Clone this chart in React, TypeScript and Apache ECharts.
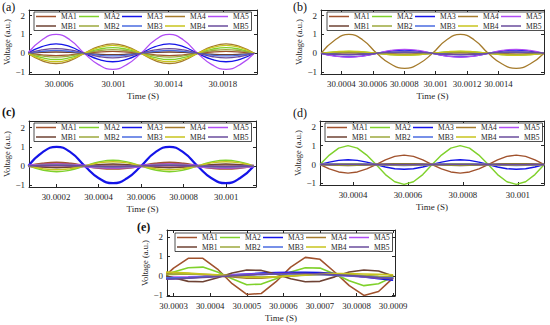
import React, { useEffect, useRef } from "react";
import * as echarts from "echarts";

const NAMES = ["MA1", "MA2", "MA3", "MA4", "MA5", "MB1", "MB2", "MB3", "MB4", "MB5"];
const COLORS: Record<string, string> = {
  MA1: "#A0522D", MA2: "#7FD12B", MA3: "#1414E8", MA4: "#A57B2C", MA5: "#B04DF5",
  MB1: "#6E4233", MB2: "#9DA83C", MB3: "#4A6BE0", MB4: "#C8C41E", MB5: "#6A4C9C",
};

// ---------- panel (a) ----------
const A_T = [30.00037, 30.000474, 30.000578, 30.000681, 30.000785, 30.000889, 30.000993, 30.001096, 30.0012, 30.001304, 30.001408, 30.001511, 30.001615, 30.001719, 30.001823, 30.001926, 30.00203];
const A_MA1 = [0, -0.08, -0.12, -0.08, 0, 0.07, 0.1, 0.07, 0, -0.08, -0.12, -0.08, 0, 0.07, 0.1, 0.07, 0];
const A_MA2 = [0, -0.23, -0.33, -0.23, 0, 0.21, 0.3, 0.21, 0, -0.23, -0.33, -0.23, 0, 0.21, 0.3, 0.21, 0];
const A_MA3 = [0, 0.35, 0.5, 0.35, 0, -0.32, -0.45, -0.32, 0, 0.35, 0.5, 0.35, 0, -0.32, -0.45, -0.32, 0];
const A_MA4 = [0, -0.39, -0.55, -0.39, 0, 0.35, 0.5, 0.35, 0, -0.39, -0.55, -0.39, 0, 0.35, 0.5, 0.35, 0];
const A_MA5 = [0, 0.71, 1.0, 0.71, 0, -0.6, -0.85, -0.6, 0, 0.71, 1.0, 0.71, 0, -0.6, -0.85, -0.6, 0];
const A_MB1 = [0, 0.05, 0.07, 0.05, 0, -0.05, -0.07, -0.05, 0, 0.05, 0.07, 0.05, 0, -0.05, -0.07, -0.05, 0];
const A_MB2 = [0, -0.14, -0.2, -0.14, 0, 0.14, 0.2, 0.14, 0, -0.14, -0.2, -0.14, 0, 0.14, 0.2, 0.14, 0];
const A_MB3 = [0, 0.1, 0.15, 0.1, 0, -0.1, -0.14, -0.1, 0, 0.1, 0.15, 0.1, 0, -0.1, -0.14, -0.1, 0];
const A_MB4 = [0, -0.32, -0.45, -0.32, 0, 0.3, 0.42, 0.3, 0, -0.32, -0.45, -0.32, 0, 0.3, 0.42, 0.3, 0];
const A_MB5 = [0, 0.18, 0.25, 0.18, 0, -0.17, -0.24, -0.17, 0, 0.18, 0.25, 0.18, 0, -0.17, -0.24, -0.17, 0];
const A_XTICKS = [30.0006, 30.001, 30.0014, 30.0018];

// ---------- panel (b) ----------
const B_T = [30.00027, 30.000359, 30.000448, 30.000536, 30.000625, 30.000714, 30.000803, 30.000891, 30.00098, 30.001069, 30.001158, 30.001246, 30.001335, 30.001424, 30.001513, 30.001601, 30.00169];
const B_MA1 = [0, 0.03, 0.04, 0.03, 0, -0.03, -0.04, -0.03, 0, 0.03, 0.04, 0.03, 0, -0.03, -0.04, -0.03, 0];
const B_MA2 = [0, 0.07, 0.1, 0.07, 0, -0.07, -0.1, -0.07, 0, 0.07, 0.1, 0.07, 0, -0.07, -0.1, -0.07, 0];
const B_MA3 = [0, -0.14, -0.19, -0.14, 0, 0.12, 0.17, 0.12, 0, -0.14, -0.19, -0.14, 0, 0.12, 0.17, 0.12, 0];
const B_MA4 = [0, 0.71, 1.0, 0.71, 0, -0.57, -0.8, -0.57, 0, 0.71, 1.0, 0.71, 0, -0.57, -0.8, -0.57, 0];
const B_MA5 = [0, -0.15, -0.21, -0.15, 0, 0.15, 0.21, 0.15, 0, -0.15, -0.21, -0.15, 0, 0.15, 0.21, 0.15, 0];
const B_MB1 = [0, -0.03, -0.04, -0.03, 0, 0.03, 0.04, 0.03, 0, -0.03, -0.04, -0.03, 0, 0.03, 0.04, 0.03, 0];
const B_MB2 = [0, 0.05, 0.07, 0.05, 0, -0.05, -0.07, -0.05, 0, 0.05, 0.07, 0.05, 0, -0.05, -0.07, -0.05, 0];
const B_MB3 = [0, -0.05, -0.07, -0.05, 0, 0.05, 0.07, 0.05, 0, -0.05, -0.07, -0.05, 0, 0.05, 0.07, 0.05, 0];
const B_MB4 = [0, 0.08, 0.12, 0.08, 0, -0.08, -0.11, -0.08, 0, 0.08, 0.12, 0.08, 0, -0.08, -0.11, -0.08, 0];
const B_MB5 = [0, -0.06, -0.08, -0.06, 0, 0.06, 0.08, 0.06, 0, -0.06, -0.08, -0.06, 0, 0.06, 0.08, 0.06, 0];
const B_XTICKS = [30.0004, 30.0006, 30.0008, 30.001, 30.0012, 30.0014];

// ---------- panel (c) ----------
const C_T = [30.00007, 30.000136, 30.000203, 30.000269, 30.000335, 30.000401, 30.000468, 30.000534, 30.0006, 30.000666, 30.000733, 30.000799, 30.000865, 30.000931, 30.000998, 30.001064, 30.00113];
const C_MA1 = [0, 0.12, 0.17, 0.12, 0, -0.1, -0.14, -0.1, 0, 0.12, 0.17, 0.12, 0, -0.1, -0.14, -0.1, 0];
const C_MA2 = [0, -0.21, -0.3, -0.21, 0, 0.21, 0.3, 0.21, 0, -0.21, -0.3, -0.21, 0, 0.21, 0.3, 0.21, 0];
const C_MA3 = [0, 0.71, 1.0, 0.71, 0, -0.64, -0.9, -0.64, 0, 0.71, 1.0, 0.71, 0, -0.64, -0.9, -0.64, 0];
const C_MA4 = [0, -0.04, -0.05, -0.04, 0, 0.04, 0.05, 0.04, 0, -0.04, -0.05, -0.04, 0, 0.04, 0.05, 0.04, 0];
const C_MA5 = [0, 0.04, 0.06, 0.04, 0, -0.05, -0.07, -0.05, 0, 0.04, 0.06, 0.04, 0, -0.05, -0.07, -0.05, 0];
const C_MB1 = [0, -0.06, -0.09, -0.06, 0, 0.07, 0.1, 0.07, 0, -0.06, -0.09, -0.06, 0, 0.07, 0.1, 0.07, 0];
const C_MB2 = [0, 0.04, 0.05, 0.04, 0, -0.04, -0.05, -0.04, 0, 0.04, 0.05, 0.04, 0, -0.04, -0.05, -0.04, 0];
const C_MB3 = [0, 0.03, 0.04, 0.03, 0, -0.03, -0.04, -0.03, 0, 0.03, 0.04, 0.03, 0, -0.03, -0.04, -0.03, 0];
const C_MB4 = [0, -0.14, -0.2, -0.14, 0, 0.16, 0.22, 0.16, 0, -0.14, -0.2, -0.14, 0, 0.16, 0.22, 0.16, 0];
const C_MB5 = [0, 0.02, 0.03, 0.02, 0, -0.02, -0.03, -0.02, 0, 0.02, 0.03, 0.02, 0, -0.02, -0.03, -0.02, 0];
const C_XTICKS = [30.0002, 30.0004, 30.0006, 30.0008, 30.001];

// ---------- panel (d) ----------
const D_T = [30.00028, 30.000314, 30.000348, 30.000382, 30.000416, 30.00045, 30.000484, 30.000518, 30.000552, 30.000586, 30.00062, 30.000654, 30.000688, 30.000722, 30.000756, 30.00079, 30.000824, 30.000858, 30.000892, 30.000926, 30.00096, 30.000994, 30.001028, 30.001062, 30.001096];
const D_MA1 = [0, -0.23, -0.39, -0.45, -0.39, -0.23, 0, 0.25, 0.43, 0.5, 0.43, 0.25, 0, -0.23, -0.39, -0.45, -0.39, -0.23, 0, 0.25, 0.43, 0.5, 0.43, 0.25, 0];
const D_MA2 = [0, 0.5, 0.87, 1.0, 0.87, 0.5, 0, -0.53, -0.91, -1.05, -0.91, -0.53, 0, 0.5, 0.87, 1.0, 0.87, 0.5, 0, -0.53, -0.91, -1.05, -0.91, -0.53, 0];
const D_MA3 = [0, 0.13, 0.22, 0.25, 0.22, 0.13, 0, -0.13, -0.22, -0.25, -0.22, -0.13, 0, 0.13, 0.22, 0.25, 0.22, 0.13, 0, -0.13, -0.22, -0.25, -0.22, -0.13, 0];
const D_MA4 = [0, 0.01, 0.02, 0.02, 0.02, 0.01, 0, -0.01, -0.02, -0.02, -0.02, -0.01, 0, 0.01, 0.02, 0.02, 0.02, 0.01, 0, -0.01, -0.02, -0.02, -0.02, -0.01, 0];
const D_MA5 = [0, 0.01, 0.01, 0.01, 0.01, 0.01, 0, -0.01, -0.01, -0.01, -0.01, -0.01, 0, 0.01, 0.01, 0.01, 0.01, 0.01, 0, -0.01, -0.01, -0.01, -0.01, -0.01, 0];
const D_MB1 = [0, -0.03, -0.04, -0.05, -0.04, -0.03, 0, 0.03, 0.04, 0.05, 0.04, 0.03, 0, -0.03, -0.04, -0.05, -0.04, -0.03, 0, 0.03, 0.04, 0.05, 0.04, 0.03, 0];
const D_MB2 = [0, -0.01, -0.02, -0.02, -0.02, -0.01, 0, 0.01, 0.02, 0.02, 0.02, 0.01, 0, -0.01, -0.02, -0.02, -0.02, -0.01, 0, 0.01, 0.02, 0.02, 0.02, 0.01, 0];
const D_MB3 = [0, 0.03, 0.04, 0.05, 0.04, 0.03, 0, -0.03, -0.04, -0.05, -0.04, -0.03, 0, 0.03, 0.04, 0.05, 0.04, 0.03, 0, -0.03, -0.04, -0.05, -0.04, -0.03, 0];
const D_MB4 = [0, 0.01, 0.02, 0.02, 0.02, 0.01, 0, -0.01, -0.02, -0.02, -0.02, -0.01, 0, 0.01, 0.02, 0.02, 0.02, 0.01, 0, -0.01, -0.02, -0.02, -0.02, -0.01, 0];
const D_MB5 = [0, 0, 0.01, 0.01, 0.01, 0, 0, 0, -0.01, -0.01, -0.01, 0, 0, 0, 0.01, 0.01, 0.01, 0, 0, 0, -0.01, -0.01, -0.01, 0, 0];
const D_XTICKS = [30.0004, 30.0006, 30.0008, 30.001];

// ---------- panel (e) ----------
const E_T = [30.00026, 30.0003, 30.00034, 30.00038, 30.00042, 30.00046, 30.0005, 30.00054, 30.00058, 30.00062, 30.00066, 30.0007, 30.00074, 30.00078, 30.00082, 30.00086, 30.0009];
const E_MA1 = [-0.3, 0.4, 0.9, 0.9, 0.35, -0.4, -0.95, -0.9, -0.3, 0.45, 0.95, 0.85, 0.2, -0.5, -1.0, -0.8, -0.1];
const E_MA2 = [-0.15, 0.2, 0.42, 0.45, 0.2, -0.15, -0.45, -0.42, -0.15, 0.2, 0.42, 0.4, 0.1, -0.25, -0.5, -0.4, -0.05];
const E_MA3 = [-0.15, -0.14, -0.1, -0.05, 0.0, 0.05, 0.1, 0.14, 0.17, 0.18, 0.18, 0.17, 0.12, 0.05, -0.05, -0.15, -0.22];
const E_MA4 = [0.15, 0.15, 0.12, 0.06, 0.0, -0.06, -0.12, -0.12, -0.06, 0.0, 0.06, 0.12, 0.12, 0.06, 0.0, -0.06, -0.1];
const E_MA5 = [-0.05, -0.06, -0.05, -0.02, 0.02, 0.05, 0.08, 0.1, 0.12, 0.12, 0.1, 0.08, 0.04, 0.0, -0.05, -0.1, -0.12];
const E_MB1 = [0.1, -0.1, -0.28, -0.3, -0.1, 0.15, 0.3, 0.28, 0.1, -0.15, -0.3, -0.28, -0.05, 0.2, 0.3, 0.25, 0.0];
const E_MB2 = [0.05, 0.08, 0.1, 0.08, 0.04, 0.0, -0.04, -0.06, -0.04, 0.0, 0.04, 0.06, 0.08, 0.06, 0.02, -0.02, -0.04];
const E_MB3 = [-0.1, -0.1, -0.08, -0.05, -0.02, 0.02, 0.05, 0.08, 0.1, 0.1, 0.09, 0.07, 0.04, 0.0, -0.04, -0.08, -0.1];
const E_MB4 = [0.2, 0.18, 0.14, 0.1, 0.05, 0.0, -0.05, -0.08, -0.05, 0.0, 0.05, 0.1, 0.12, 0.12, 0.1, 0.08, 0.05];
const E_MB5 = [-0.18, -0.16, -0.12, -0.08, -0.04, 0.0, 0.04, 0.08, 0.1, 0.12, 0.12, 0.1, 0.06, 0.02, -0.04, -0.1, -0.14];
const E_XTICKS = [30.0003, 30.0004, 30.0005, 30.0006, 30.0007, 30.0008, 30.0009];

const Y_TICKS = [-1, 0, 1, 2];
const PANEL_LABELS = ["(a)", "(b)", "(c)", "(d)", "(e)"];
const X_NAME = "Time (S)";
const Y_NAME = "Voltage (a.u.)";

const FONT = '"Liberation Serif", "Times New Roman", "DejaVu Serif", serif';
const AXIS_COLOR = "#262626";
const TEXT_COLOR = "#1e1e1e";

type Panel = {
  times: number[];
  values: Record<string, number[]>;
  xMin: number; xMax: number; xTicks: number[];
  yMin: number; yMax: number;
  grid: { left: number; top: number; width: number; height: number };
  legend: { left: number; top: number };
  title: { x: number; y: number; bold: boolean };
  smooth: number | boolean;
  width: number;
  widths?: Record<string, number>;
};

const PANELS: Panel[] = [
  {
    times: A_T,
    values: { MA1: A_MA1, MA2: A_MA2, MA3: A_MA3, MA4: A_MA4, MA5: A_MA5, MB1: A_MB1, MB2: A_MB2, MB3: A_MB3, MB4: A_MB4, MB5: A_MB5 },
    xMin: 30.00038, xMax: 30.00205, xTicks: A_XTICKS, yMin: -1.1, yMax: 2.3,
    grid: { left: 29, top: 10, width: 228, height: 64 }, legend: { left: 34, top: 12 },
    title: { x: 2, y: 1, bold: false }, smooth: 0.5, width: 1.3,
  },
  {
    times: B_T,
    values: { MA1: B_MA1, MA2: B_MA2, MA3: B_MA3, MA4: B_MA4, MA5: B_MA5, MB1: B_MB1, MB2: B_MB2, MB3: B_MB3, MB4: B_MB4, MB5: B_MB5 },
    xMin: 30.00027, xMax: 30.00169, xTicks: B_XTICKS, yMin: -1.1, yMax: 2.3,
    grid: { left: 321, top: 10, width: 223, height: 64 }, legend: { left: 327, top: 12 },
    title: { x: 293, y: 1, bold: false }, smooth: 0.5, width: 1.3,
  },
  {
    times: C_T,
    values: { MA1: C_MA1, MA2: C_MA2, MA3: C_MA3, MA4: C_MA4, MA5: C_MA5, MB1: C_MB1, MB2: C_MB2, MB3: C_MB3, MB4: C_MB4, MB5: C_MB5 },
    xMin: 30.000073, xMax: 30.00114, xTicks: C_XTICKS, yMin: -1.1, yMax: 2.35,
    grid: { left: 29, top: 121, width: 227, height: 66 }, legend: { left: 34, top: 123 },
    title: { x: 2, y: 106, bold: true }, smooth: 0.5, width: 1.4,
    widths: { MA1: 2.2, MA3: 2.2, MA5: 3 },
  },
  {
    times: D_T,
    values: { MA1: D_MA1, MA2: D_MA2, MA3: D_MA3, MA4: D_MA4, MA5: D_MA5, MB1: D_MB1, MB2: D_MB2, MB3: D_MB3, MB4: D_MB4, MB5: D_MB5 },
    xMin: 30.00028, xMax: 30.001095, xTicks: D_XTICKS, yMin: -1.08, yMax: 2.3,
    grid: { left: 320, top: 121, width: 224, height: 64 }, legend: { left: 325, top: 123 },
    title: { x: 293, y: 107, bold: false }, smooth: false, width: 1.4,
  },
  {
    times: E_T,
    values: { MA1: E_MA1, MA2: E_MA2, MA3: E_MA3, MA4: E_MA4, MA5: E_MA5, MB1: E_MB1, MB2: E_MB2, MB3: E_MB3, MB4: E_MB4, MB5: E_MB5 },
    xMin: 30.000282, xMax: 30.000905, xTicks: E_XTICKS, yMin: -1.03, yMax: 2.35,
    grid: { left: 167, top: 230, width: 228, height: 66 }, legend: { left: 175, top: 233 },
    title: { x: 137, y: 221, bold: true }, smooth: false, width: 1.6,
  },
];

const fmtX = (v: number) => String(parseFloat(v.toFixed(4)));
const fmtY = (v: number) => (v < 0 ? "\u2212" + String(Math.abs(v)) : String(v));

function buildOption() {
  const grid: any[] = [];
  const xAxis: any[] = [];
  const yAxis: any[] = [];
  const series: any[] = [];
  const legend: any[] = [];
  const graphic: any[] = [];

  PANELS.forEach((p, i) => {
    grid.push({ ...p.grid, containLabel: false });
    const line = { show: true, onZero: false, lineStyle: { color: AXIS_COLOR, width: 1 } };
    const tick = (vals: number[]) => ({ show: true, inside: true, length: 3, customValues: vals, lineStyle: { color: AXIS_COLOR, width: 1 } });
    xAxis.push({
      type: "value", gridIndex: i, position: "bottom", min: p.xMin, max: p.xMax,
      axisLine: line, axisTick: tick(p.xTicks), splitLine: { show: false },
      axisLabel: { customValues: p.xTicks, formatter: fmtX, margin: 5, fontFamily: FONT, fontSize: 8.8, color: TEXT_COLOR },
      name: X_NAME, nameLocation: "middle", nameGap: 17,
      nameTextStyle: { fontFamily: FONT, fontSize: 9, color: TEXT_COLOR },
    });
    xAxis.push({
      type: "value", gridIndex: i, position: "top", min: p.xMin, max: p.xMax,
      axisLine: line, axisTick: tick(p.xTicks), splitLine: { show: false },
      axisLabel: { show: false, customValues: p.xTicks },
    });
    yAxis.push({
      type: "value", gridIndex: i, position: "left", min: p.yMin, max: p.yMax,
      axisLine: line, axisTick: tick(Y_TICKS), splitLine: { show: false },
      axisLabel: { customValues: Y_TICKS, formatter: fmtY, margin: 4, fontFamily: FONT, fontSize: 9, color: TEXT_COLOR },
      name: Y_NAME, nameLocation: "middle", nameGap: 16,
      nameTextStyle: { fontFamily: FONT, fontSize: 8.5, color: TEXT_COLOR },
    });
    yAxis.push({
      type: "value", gridIndex: i, position: "right", min: p.yMin, max: p.yMax,
      axisLine: line, axisTick: tick(Y_TICKS), splitLine: { show: false },
      axisLabel: { show: false, customValues: Y_TICKS },
    });

    NAMES.forEach((n) => {
      const vals = p.values[n];
      const w = (p.widths && p.widths[n]) || p.width;
      series.push({
        type: "line", name: n, xAxisIndex: 2 * i, yAxisIndex: 2 * i,
        data: p.times.map((t, k) => [t, vals[k]]),
        symbol: "none", showSymbol: false, smooth: p.smooth, clip: true,
        color: COLORS[n], itemStyle: { color: COLORS[n] },
        lineStyle: { color: COLORS[n], width: w },
        silent: true,
      });
    });

    legend.push({
      data: NAMES, left: p.legend.left, top: p.legend.top, width: 222,
      orient: "horizontal", icon: "rect", itemWidth: 20, itemHeight: 1.5, itemGap: 1.5,
      padding: [0.5, 2], borderColor: "#222", borderWidth: 0.8, backgroundColor: "#ffffff",
      selectedMode: false,
      textStyle: { fontFamily: FONT, fontSize: 7.5, lineHeight: 7.5, width: 16.5, color: TEXT_COLOR },
    });

    graphic.push({
      type: "text", left: p.title.x, top: p.title.y,
      style: { text: PANEL_LABELS[i], fontFamily: FONT, fontSize: 12, fontWeight: p.title.bold ? "bold" : "normal", fill: "#111" },
    });
  });

  return { animation: false, backgroundColor: "#ffffff", grid, xAxis, yAxis, series, legend, graphic };
}

export default function App() {
  const ref = useRef<HTMLDivElement>(null);
  useEffect(() => {
    if (!ref.current) return;
    const chart = echarts.init(ref.current, undefined, { renderer: "svg" });
    chart.setOption(buildOption() as any);
    return () => chart.dispose();
  }, []);
  return <div ref={ref} style={{ position: "absolute", left: 0, top: 0, width: 550, height: 325, background: "#fff" }} />;
}
